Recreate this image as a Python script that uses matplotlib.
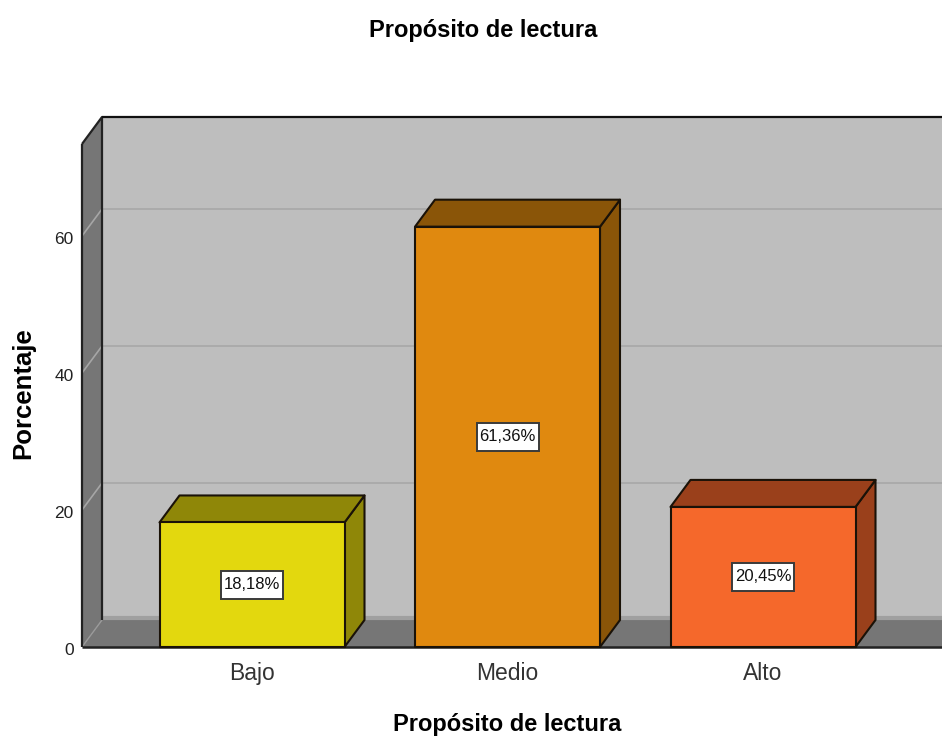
import numpy as np
import matplotlib
matplotlib.use('Agg')
import matplotlib.pyplot as plt
from matplotlib.patches import Polygon, Rectangle
from matplotlib.transforms import ScaledTranslation

categories = ['Bajo', 'Medio', 'Alto']
values = [18.18, 61.36, 20.45]
value_labels = ['18,18%', '61,36%', '20,45%']
yticks = [0, 20, 40, 60]
title = 'Propósito de lectura'
ylabel = 'Porcentaje'

front_colors = ['#e3d80e', '#e0890f', '#f5682b']
top_colors = ['#8f8708', '#8a5508', '#9a401b']
side_colors = ['#8f8708', '#8a5508', '#9a401b']
wall_color = '#bebebe'
side_wall_color = '#767676'
edge = '#1a1208'

plt.rcParams['font.family'] = ['Liberation Sans', 'DejaVu Sans']

W, H = 942, 736
fig = plt.figure(figsize=(W / 100, H / 100), dpi=100)
# axes span the front plane of the 3d box, in pixels
left, right, bottom, top = 82, 942, 647, 117
ax = fig.add_axes([left / W, 1 - bottom / H, (right - left) / W, (bottom - top) / H])

px_y = 6.85
px_x = 255.5
ax.set_xlim((left - 252) / px_x, (right - 252) / px_x)
ax.set_ylim(0, (bottom - top) / px_y)
ax.patch.set_visible(False)
for s in ax.spines.values():
    s.set_visible(False)

# depth of the fake 3d, in data units
dx = 20 / px_x
dy = 27 / px_y
x0, x1 = ax.get_xlim()
ymax = ax.get_ylim()[1] - dy
bw = 185 / px_x


def poly(pts, fc, z, lw=1.5, ec=edge):
    ax.add_patch(Polygon(pts, closed=True, fc=fc, ec=ec, lw=lw, zorder=z,
                         clip_on=False, joinstyle='round'))


def line(xs, ys, color, lw, z):
    ax.plot(xs, ys, color=color, lw=lw, zorder=z, clip_on=False,
            solid_capstyle='butt')


# back wall, left wall, floor
poly([(x0 + dx, dy), (x1 + 1, dy), (x1 + 1, ymax + dy), (x0 + dx, ymax + dy)], wall_color, 1, lw=0, ec='none')
poly([(x0, 0), (x0 + dx, dy), (x0 + dx, ymax + dy), (x0, ymax)], side_wall_color, 2, lw=0, ec='none')
poly([(x0, 0), (x0 + dx, dy), (x1 + 1, dy), (x1 + 1, 0)], side_wall_color, 2, lw=0, ec='none')
# soft light band where wall meets floor
line([x0 + dx, x1], [dy + 0.3, dy + 0.3], '#a0a0a0', 3, 2)

# gridlines on back wall
for t in yticks[1:]:
    line([x0, x0 + dx], [t, t + dy], '#a6a6a6', 1.2, 3)
    line([x0 + dx, x1], [t + dy, t + dy], '#a8a8a8', 1.2, 3)
line([x0, x0 + dx], [0, dy], '#9a9a9a', 1.0, 3)

# box outlines
line([x0, x0], [0, ymax], '#222222', 1.6, 4)
line([x0, x0 + dx, x0 + dx], [ymax, ymax + dy, dy], '#222222', 1.6, 4)
line([x0 + dx, x1], [ymax + dy, ymax + dy], '#111111', 1.6, 4)
line([x0, x1], [0, 0], '#222222', 1.8, 4)

# label box size in pixels
box_w, box_h = 62 / px_x, 28 / px_y

for i, v in enumerate(values):
    l, r = i - bw / 2, i + bw / 2
    poly([(r, 0), (r + dx, dy), (r + dx, v + dy), (r, v)], side_colors[i], 5)
    poly([(l, v), (r, v), (r + dx, v + dy), (l + dx, v + dy)], top_colors[i], 5)
    poly([(l, 0), (r, 0), (r, v), (l, v)], front_colors[i], 6)
    ax.add_patch(Rectangle((i - box_w / 2, v / 2 - box_h / 2), box_w, box_h,
                           fc='white', ec='#3a3a3a', lw=1.4, zorder=7))
    ax.text(i, v / 2, value_labels[i], ha='center', va='center', fontsize=12,
            color='#111111', zorder=8)

ax.set_xticks(range(len(categories)))
ax.set_xticklabels(categories, fontsize=16.5, color='#333333')
ax.tick_params(axis='x', length=0, pad=11)
ax.set_yticks(yticks)
ax.set_yticklabels(yticks, fontsize=12.5, color='#222222')
ax.tick_params(axis='y', length=0, pad=6)
# tick labels sit a little below their tick in the original
for lab in ax.get_yticklabels():
    lab.set_transform(lab.get_transform() + ScaledTranslation(0, -2 / 100, fig.dpi_scale_trans))

fig.text(483 / W, 1 - 31 / H, title, ha='center', va='center', fontsize=17, fontweight='bold')
fig.text(507 / W, 1 - 725 / H, title, ha='center', va='center', fontsize=17, fontweight='bold')
fig.text(23 / W, 1 - 393 / H, ylabel, ha='center', va='center', rotation=90, fontsize=18.5, fontweight='bold')

fig.savefig('out.png', dpi=100)
